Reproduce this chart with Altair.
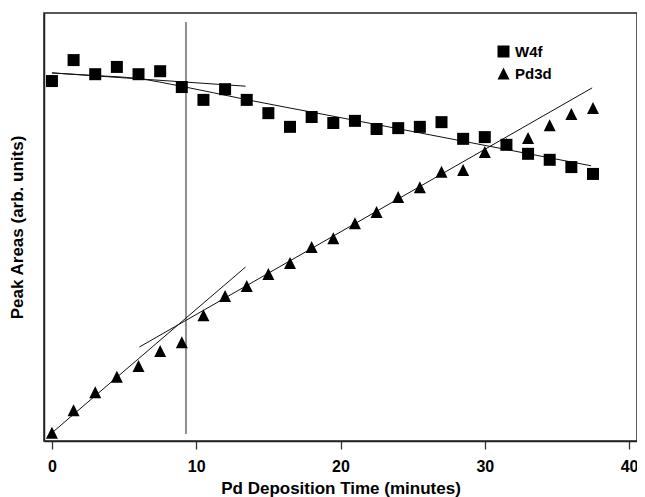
import altair as alt
import pandas as pd

# Deposition times (minutes)
times = [0, 1.5, 3, 4.5, 6, 7.5, 9, 10.5, 12, 13.5, 15, 16.5, 18, 19.5,
         21, 22.5, 24, 25.5, 27, 28.5, 30, 31.5, 33, 34.5, 36, 37.5]

# Peak areas (arbitrary units)
w4f = [84.1, 89.0, 85.7, 87.4, 85.7, 86.4, 82.7, 79.7, 82.2, 79.7, 76.6, 73.4, 75.7,
       74.3, 74.8, 72.9, 73.1, 73.4, 74.5, 70.6, 71.0, 69.2, 67.1, 65.7, 64.0, 62.4]
pd3d = [1.9, 7.2, 11.4, 15.0, 17.5, 21.0, 23.1, 29.4, 33.9, 36.2, 39.0, 41.6, 45.3,
        47.4, 50.9, 53.5, 57.0, 59.3, 62.9, 63.3, 67.5, 69.4, 70.8, 73.8, 76.4, 77.8]

series_names = ["W4f", "Pd3d"]

# Fit lines
w4f_fit_x = [0, 2.96, 5.92, 8.95, 13.42, 19.0, 37.37]
w4f_fit_y = [86.0, 85.4, 84.7, 82.9, 79.8, 76.2, 64.3]
w4f_early_x = [0, 13.42]
w4f_early_y = [86.0, 82.9]
pd_early_x = [0, 13.42]
pd_early_y = [1.9, 40.65]
pd_late_x = [6.06, 37.44]
pd_late_y = [21.96, 82.5]

# Vertical marker line
marker_x = [9.29]
marker_y = [1.64]
marker_y2 = [97.9]

x_ticks = [0, 10, 20, 30, 40]

points = pd.DataFrame(
    [{"t": t, "v": v, "s": "W4f"} for t, v in zip(times, w4f)]
    + [{"t": t, "v": v, "s": "Pd3d"} for t, v in zip(times, pd3d)]
)

lines = pd.DataFrame(
    [{"t": a, "v": b, "line": "w4f_fit", "o": i} for i, (a, b) in enumerate(zip(w4f_fit_x, w4f_fit_y))]
    + [{"t": a, "v": b, "line": "w4f_early", "o": i} for i, (a, b) in enumerate(zip(w4f_early_x, w4f_early_y))]
    + [{"t": a, "v": b, "line": "pd_early", "o": i} for i, (a, b) in enumerate(zip(pd_early_x, pd_early_y))]
    + [{"t": a, "v": b, "line": "pd_late", "o": i} for i, (a, b) in enumerate(zip(pd_late_x, pd_late_y))]
)

marker = pd.DataFrame({"t": marker_x, "v": marker_y, "v2": marker_y2})

FONT = "Liberation Sans"

xscale = alt.Scale(domain=[-0.551, 40.55], nice=False, zero=False)
yscale = alt.Scale(domain=[0, 100], nice=False)

xaxis = alt.Axis(values=x_ticks, title="Pd Deposition Time (minutes)", grid=False,
                 tickSize=8, labelPadding=9, titlePadding=6, format="d")
yaxis = alt.Axis(title="Peak Areas (arb. units)", labels=False, ticks=False, grid=False,
                 titlePadding=18)

square = "M-1,-1L1,-1L1,1L-1,1Z"
triangle = "M0,-1L1,1L-1,1Z"

pts = alt.Chart(points).mark_point(filled=True, size=144, opacity=1, strokeWidth=0).encode(
    x=alt.X("t:Q", scale=xscale, axis=xaxis),
    y=alt.Y("v:Q", scale=yscale, axis=yaxis),
    shape=alt.Shape("s:N", scale=alt.Scale(domain=series_names, range=[square, triangle]),
                    legend=alt.Legend(title=None, orient="none", legendX=452, legendY=31,
                                      symbolSize=144, symbolFillColor="black",
                                      symbolStrokeWidth=0, symbolType="square",
                                      labelFontSize=15, labelFont=FONT, labelFontWeight="bold",
                                      labelColor="black", labelOffset=4, rowPadding=6,
                                      padding=0)),
    color=alt.value("black"),
)

fit = alt.Chart(lines).mark_line(color="#111", strokeWidth=1, interpolate="monotone").encode(
    x=alt.X("t:Q", scale=xscale),
    y=alt.Y("v:Q", scale=yscale),
    detail="line:N",
    order="o:Q",
)

vline = alt.Chart(marker).mark_rule(color="#555", strokeWidth=1.3).encode(
    x=alt.X("t:Q", scale=xscale),
    y=alt.Y("v:Q", scale=yscale),
    y2="v2:Q",
)

chart = alt.layer(vline, fit, pts).properties(
    width=593, height=428,
    autosize=alt.AutoSizeParams(type="none"),
    padding={"left": 36, "top": 5, "right": 0, "bottom": 56},
).configure_view(
    stroke="#222", strokeWidth=1.5
).configure_axis(
    labelFont=FONT, labelFontSize=16, labelFontWeight="bold", labelColor="black",
    titleFont=FONT, titleFontSize=17, titleFontWeight="bold", titleColor="black",
    domainColor="#222", domainWidth=1.5, tickColor="#333", tickWidth=1.3,
)

chart.save("out.html", embed_options={"renderer": "svg", "actions": False})
